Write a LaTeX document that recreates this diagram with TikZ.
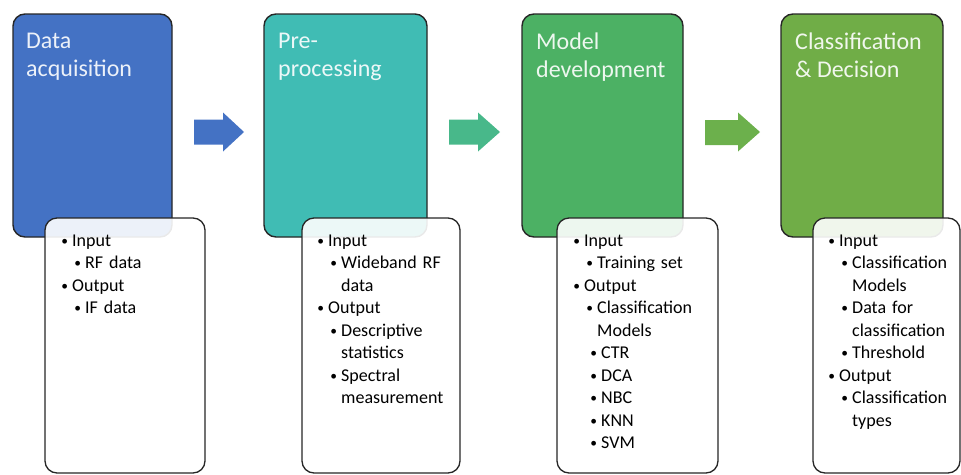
\documentclass[tikz,border=0pt]{standalone}
\usepackage{fontspec}
\setmainfont{Carlito}
\usepackage{enumitem}
\usetikzlibrary{positioning}

\definecolor{acqblue}{RGB}{68,114,196}
\definecolor{preteal}{RGB}{64,188,180}
\definecolor{prearrow}{RGB}{72,184,138}
\definecolor{modgreen}{RGB}{76,177,100}
\definecolor{modarrow}{RGB}{108,176,76}
\definecolor{clsgreen}{RGB}{112,173,71}

\newlist{stagelist}{itemize}{3}
\setlist[stagelist]{label={\raisebox{0.05em}{\scalebox{0.75}{\textbullet}}},nosep,labelsep=4pt}
\setlist[stagelist,1]{leftmargin=9pt}
\setlist[stagelist,2]{leftmargin=13pt}
\setlist[stagelist,3]{leftmargin=4pt}

\begin{document}
\begin{tikzpicture}[x=1pt,y=-1pt,
	stagebox/.style={draw=black!85,line width=1.4pt,rounded corners=12pt,minimum height=223pt,inner sep=0pt},
	listbox/.style={draw=black!85,line width=1.3pt,rounded corners=12pt,fill=white,fill opacity=0.9,minimum height=255pt,inner sep=0pt},
	stagetitle/.style={anchor=north west,inner sep=0pt,align=left,font=\fontsize{24}{28}\selectfont,execute at begin node=\strut},
	stagetext/.style={anchor=north west,inner sep=0pt,text width=142pt,font=\fontsize{18}{22.5}\selectfont}]

	\useasboundingbox (0,0) rectangle (961,474);

	% coloured stages
	\node[stagebox,fill=acqblue,minimum width=159pt] (acq) at (92.5,125.5) {};
	\node[stagebox,fill=preteal,minimum width=163pt] (pre) at (345.5,125.5) {};
	\node[stagebox,fill=modgreen,minimum width=161pt] (mod) at (602.5,125.5) {};
	\node[stagebox,fill=clsgreen,minimum width=162pt] (cls) at (862,125.5) {};

	\node[stagetitle,text=white!90!acqblue] (acqtitle) at (26,32.5) {Data\\acquisition};
	\node[stagetitle,text=white!90!preteal] (pretitle) at (278,32.5) {Pre-\\processing};
	\node[stagetitle,text=white!90!modgreen] (modtitle) at (536,32.5) {Model\\development};
	\node[stagetitle,text=white!90!clsgreen] (clstitle) at (795,32.5) {Classification\\\& Decision};

	% block arrows
	\fill[acqblue] (194,119.5) -- (223,119.5) -- (223,112.5) -- (244,132) -- (223,151.5) -- (223,144.5) -- (194,144.5) -- cycle;
	\fill[prearrow] (449,119.5) -- (478,119.5) -- (478,112.5) -- (500,132) -- (478,151.5) -- (478,144.5) -- (449,144.5) -- cycle;
	\fill[modarrow] (705,120) -- (738,120) -- (738,112.5) -- (760,132) -- (738,151.5) -- (738,145) -- (705,145) -- cycle;

	% input / output boxes
	\node[listbox,minimum width=160pt] (acqlist) at (125,345.5) {};
	\node[listbox,minimum width=158pt] (prelist) at (381,345.5) {};
	\node[listbox,minimum width=161pt] (modlist) at (637.5,345.5) {};
	\node[listbox,minimum width=147pt] (clslist) at (886.5,345.5) {};

	\node[stagetext] (acqtext) at (63,223.5) {%
		\begin{stagelist}
			\item Input
			\begin{stagelist}
				\item RF data
			\end{stagelist}
			\item Output
			\begin{stagelist}
				\item IF data
			\end{stagelist}
		\end{stagelist}};
	\node[stagetext] (pretext) at (319,223.5) {%
		\begin{stagelist}
			\item Input
			\begin{stagelist}
				\item Wideband RF\newline data
			\end{stagelist}
			\item Output
			\begin{stagelist}
				\item Descriptive\newline statistics
				\item Spectral\newline measurement
			\end{stagelist}
		\end{stagelist}};
	\node[stagetext] (modtext) at (575,223.5) {%
		\begin{stagelist}
			\item Input
			\begin{stagelist}
				\item Training set
			\end{stagelist}
			\item Output
			\begin{stagelist}
				\item Classification\newline Models
				\begin{stagelist}
					\item CTR
					\item DCA
					\item NBC
					\item KNN
					\item SVM
				\end{stagelist}
			\end{stagelist}
		\end{stagelist}};
	\node[stagetext] (clstext) at (830,223.5) {%
		\begin{stagelist}
			\item Input
			\begin{stagelist}
				\item Classification\newline Models
				\item Data for\newline classification
				\item Threshold
			\end{stagelist}
			\item Output
			\begin{stagelist}
				\item Classification\newline types
			\end{stagelist}
		\end{stagelist}};
\end{tikzpicture}
\end{document}
